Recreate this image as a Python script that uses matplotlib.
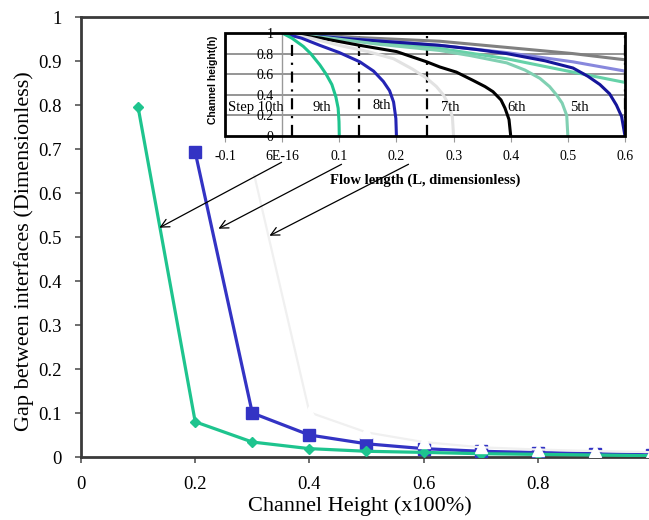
import matplotlib
matplotlib.use("Agg")
import matplotlib.pyplot as plt
from matplotlib.patches import FancyArrowPatch, Rectangle

# main chart: gap between interfaces vs channel height
height = [0.1, 0.2, 0.3, 0.4, 0.5, 0.6, 0.7, 0.8, 0.9, 1.0]
gap_green = [0.795, 0.080, 0.034, 0.019, 0.013, 0.0105, 0.0075, 0.006, 0.0045, 0.003]
gap_blue = [None, 0.693, 0.100, 0.050, 0.030, 0.019, 0.013, 0.010, 0.0075, 0.005]
gap_faint = [None, None, 0.660, 0.1015, 0.056, 0.034, 0.022, 0.017, 0.0135, 0.011]

x_ticks = [0, 0.2, 0.4, 0.6, 0.8, 1.0]
x_ticklabels = ["0", "0.2", "0.4", "0.6", "0.8", "1"]
y_ticks = [0, 0.1, 0.2, 0.3, 0.4, 0.5, 0.6, 0.7, 0.8, 0.9, 1.0]
y_ticklabels = ["0", "0.1", "0.2", "0.3", "0.4", "0.5", "0.6", "0.7", "0.8", "0.9", "1"]

# inset: interface profiles for each step
prof_9_x = [0, 0.017, 0.037, 0.05, 0.066, 0.077, 0.087, 0.094, 0.098, 0.0995, 0.1]
prof_9_h = [1, 0.95, 0.87, 0.80, 0.69, 0.60, 0.50, 0.38, 0.27, 0.14, 0]
prof_8_x = [0, 0.034, 0.066, 0.1, 0.136, 0.16, 0.177, 0.188, 0.195, 0.199, 0.2]
prof_8_h = [1, 0.95, 0.88, 0.81, 0.72, 0.63, 0.53, 0.44, 0.33, 0.17, 0]
prof_7_x = [0, 0.05, 0.1, 0.15, 0.195, 0.228, 0.253, 0.27, 0.282, 0.292, 0.298, 0.3]
prof_7_h = [1, 0.95, 0.88, 0.82, 0.75, 0.65, 0.56, 0.48, 0.40, 0.30, 0.18, 0]
prof_6_x = [0, 0.068, 0.136, 0.2, 0.253, 0.276, 0.305, 0.334, 0.355, 0.369, 0.383, 0.39, 0.397, 0.4]
prof_6_h = [1, 0.95, 0.88, 0.82, 0.72, 0.67, 0.62, 0.54, 0.48, 0.43, 0.35, 0.27, 0.16, 0]
prof_5_x = [0, 0.085, 0.17, 0.276, 0.33, 0.393, 0.425, 0.451, 0.468, 0.48, 0.49, 0.498, 0.5]
prof_5_h = [1, 0.95, 0.89, 0.83, 0.78, 0.71, 0.64, 0.56, 0.48, 0.40, 0.32, 0.20, 0]
prof_4_x = [0, 0.1, 0.2, 0.276, 0.34, 0.393, 0.46, 0.509, 0.535, 0.556, 0.573, 0.585, 0.594, 0.6]
prof_4_h = [1, 0.95, 0.91, 0.88, 0.84, 0.80, 0.73, 0.66, 0.58, 0.50, 0.41, 0.30, 0.19, 0]
prof_3_x = [0, 0.136, 0.276, 0.393, 0.5, 0.6]
prof_3_h = [1, 0.93, 0.85, 0.75, 0.63, 0.52]
prof_2_x = [0, 0.136, 0.276, 0.393, 0.509, 0.6]
prof_2_h = [1, 0.94, 0.88, 0.81, 0.72, 0.63]
prof_1_x = [0, 0.136, 0.276, 0.393, 0.509, 0.6]
prof_1_h = [1, 0.955, 0.92, 0.86, 0.80, 0.74]

step_lines = [0.017, 0.135, 0.253, 0.6]
step_labels = ["Step 10th", "9th", "8th", "7th", "6th", "5th"]
step_label_x = [-0.046, 0.070, 0.175, 0.295, 0.41, 0.52]
step_label_y = [0.28, 0.28, 0.30, 0.28, 0.28, 0.28]

inset_xticks = [-0.1, 0, 0.1, 0.2, 0.3, 0.4, 0.5, 0.6]
inset_xticklabels = ["-0.1", "6E-16", "0.1", "0.2", "0.3", "0.4", "0.5", "0.6"]
inset_yticks = [0, 0.2, 0.4, 0.6, 0.8, 1.0]
inset_yticklabels = ["0", "0.2", "0.4", "0.6", "0.8", "1"]

plt.rcParams['font.family'] = ['Liberation Serif', 'DejaVu Serif']

W, H = 649, 520
fig = plt.figure(figsize=(W / 100, H / 100), dpi=100)

# main axes (runs a little past the right edge like the original)
ax = fig.add_axes([81 / W, 1 - 457 / H, 571 / W, 440 / H])
ax.plot(height, gap_green, color='#1ec48e', lw=2.3, marker='D', ms=5, zorder=4)
ax.plot(height, gap_blue, color='#3333c4', lw=2.3, marker='s', ms=8, zorder=3)
ax.plot(height, gap_faint, color='#f0f0f0', lw=1.6, marker='^', ms=8,
        mfc='white', mec='white', zorder=5)
ax.set_xlim(0, 1)
ax.set_ylim(0, 1)
ax.set_xticks(x_ticks)
ax.set_xticklabels(x_ticklabels)
ax.set_yticks(y_ticks)
ax.set_yticklabels(y_ticklabels)
ax.tick_params(labelsize=13.5, length=4, width=1.2, color='#555555', pad=10)
for side in ['left', 'bottom', 'top']:
    ax.spines[side].set_color('#3a3a3a')
    ax.spines[side].set_linewidth(2)
ax.spines['right'].set_visible(False)
ax.set_xlabel("Channel Height (x100%)", fontsize=16)
ax.set_ylabel("Gap between interfaces (Dimensionless)", fontsize=16)
ax.xaxis.set_label_coords((360 - 81) / 571, (457 - 496) / 440)
ax.yaxis.set_label_coords((34 - 81) / 571, (457 - 251) / 440)

# inset
ins = fig.add_axes([225 / W, 1 - 136 / H, 400 / W, 103 / H])
ins.set_facecolor('white')
for y in [0.2, 0.4, 0.6, 0.8]:
    ins.axhline(y, color='#8c8c8c', lw=1.3, zorder=1)
for xv in step_lines:
    ins.plot([xv, xv], [0, 1], color='black', lw=1.6, ls=(0, (5, 3, 1, 3)), zorder=2)

profiles = [
    (prof_1_x, prof_1_h, '#808080'),
    (prof_2_x, prof_2_h, '#8888dd'),
    (prof_3_x, prof_3_h, '#66d2a8'),
    (prof_4_x, prof_4_h, '#15159a'),
    (prof_5_x, prof_5_h, '#80d0b2'),
    (prof_6_x, prof_6_h, '#000000'),
    (prof_7_x, prof_7_h, '#e2e2e2'),
    (prof_8_x, prof_8_h, '#2424b4'),
    (prof_9_x, prof_9_h, '#1ec48e'),
]
for px, ph, c in profiles:
    ins.plot(px, ph, color=c, lw=2.2, solid_capstyle='butt', zorder=3)

for lab, lx, ly in zip(step_labels, step_label_x, step_label_y):
    ins.text(lx, ly, lab, fontsize=10.5, ha='center', va='center', zorder=4)

ins.set_xlim(-0.1, 0.6)
ins.set_ylim(0, 1)
ins.spines['left'].set_position(('data', 0))
ins.spines['left'].set_color('#999999')
ins.spines['left'].set_linewidth(1)
for side in ['right', 'top', 'bottom']:
    ins.spines[side].set_visible(False)
ins.add_patch(Rectangle((0, 0), 1, 1, transform=ins.transAxes, fill=False,
                        ec='black', lw=2, clip_on=False, zorder=5))
ins.set_xticks(inset_xticks)
ins.set_xticklabels(inset_xticklabels)
ins.set_yticks(inset_yticks)
ins.set_yticklabels(inset_yticklabels)
ins.tick_params(axis='x', labelsize=10, length=4, color='#999999', pad=6)
ins.tick_params(axis='y', labelsize=10, length=0, pad=6)
ins.set_xlabel("Flow length (L, dimensionless)", fontsize=10.5, fontweight='bold', labelpad=8)
fig.text(213 / W, 1 - 80 / H, "Channel height(h)", rotation=90, fontsize=7.5,
         fontweight='bold', family=['Liberation Sans', 'DejaVu Sans'],
         ha='center', va='center')

# arrows from the inset to the main curves
arrows = [((284, 161), (157, 229)), ((344, 163), (216, 230)), ((411, 163), (267, 237))]
for (x0, y0), (x1, y1) in arrows:
    fig.add_artist(FancyArrowPatch((x0 / W, 1 - y0 / H), (x1 / W, 1 - y1 / H),
                                   transform=fig.transFigure,
                                   arrowstyle='->,head_length=6,head_width=3',
                                   color='black', lw=0.9, zorder=10))

fig.savefig("out.png", dpi=100)
